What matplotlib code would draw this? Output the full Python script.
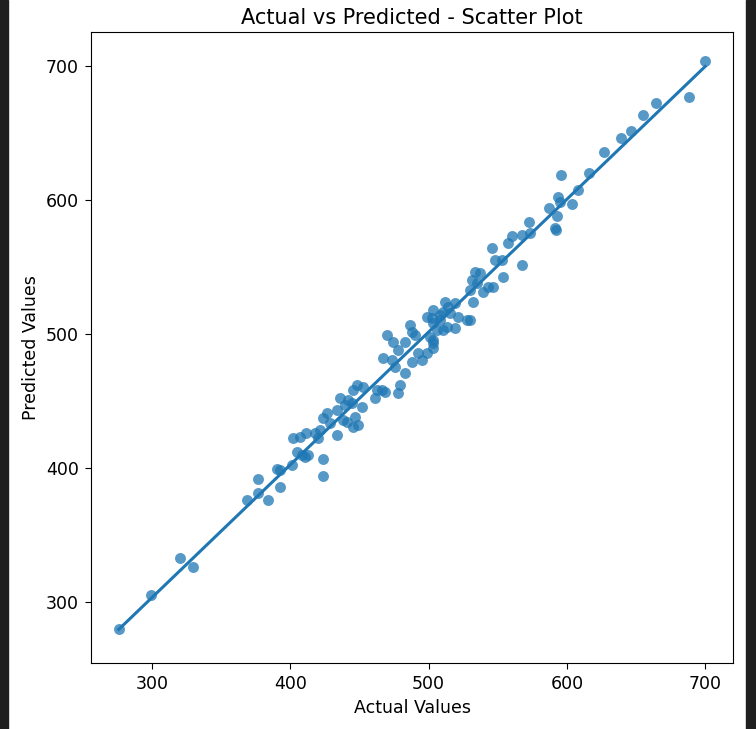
import numpy as np
import matplotlib.pyplot as plt
from matplotlib.patches import Rectangle

# values
actual = [
    276.0, 299.0, 320.0, 330.0,
    368.7, 376.6, 376.6, 383.9, 390.4, 392.6, 392.6, 401.2, 402.0, 407.0,
    411.4, 404.8, 408.5, 410.6, 412.8, 423.6, 423.6, 417.9, 420.0, 421.5,
    423.6, 426.5, 428.7, 433.8, 435.9, 439.6, 441.0, 444.6, 445.3, 433.8,
    469.9, 474.3, 477.9, 482.9, 486.6, 488.0, 490.2, 467.0, 473.5, 475.7,
    482.9, 479.3, 477.9, 468.5, 462.7, 461.2, 466.3, 448.2, 452.6, 445.3,
    441.7, 451.8, 446.8, 438.1, 449.0, 492.3, 495.2, 498.8, 501.0, 503.2,
    502.5, 508.2, 513.3, 519.1, 521.3, 527.8, 510.4, 506.1, 488.0, 498.8,
    545.8, 557.4, 548.0, 553.1, 567.5, 533.5, 537.2, 531.4, 535.0, 553.8,
    543.0, 546.6, 529.9, 532.1, 539.3, 511.9, 514.0, 519.1, 503.2, 508.2,
    515.5, 529.9, 510.4, 503.2, 503.2, 503.2, 560.3,
    699.9, 688.3, 664.4, 655.0, 646.3, 639.1, 626.8, 616.0, 595.7, 608.0,
    593.6, 595.0, 603.7, 587.1, 592.8, 591.4, 592.1, 572.6, 573.3, 567.5,
]
predicted = [
    280.0, 305.0, 333.0, 326.0,
    376.1, 391.8, 381.3, 376.1, 399.3, 398.5, 385.8, 402.2, 422.4, 423.1,
    426.1, 411.9, 409.7, 408.2, 409.7, 406.7, 394.0, 426.1, 422.4, 428.4,
    437.3, 441.0, 433.6, 424.6, 452.2, 447.0, 434.3, 448.5, 430.6, 443.3,
    499.3, 494.0, 488.1, 494.0, 506.7, 501.5, 499.3, 482.1, 480.6, 475.4,
    470.9, 461.9, 456.0, 456.7, 458.2, 452.2, 458.2, 461.9, 460.4, 458.2,
    450.7, 445.5, 438.1, 435.8, 432.1, 485.8, 480.6, 485.8, 497.8, 493.3,
    511.9, 510.4, 505.2, 504.5, 512.7, 510.4, 516.4, 503.0, 479.1, 512.7,
    564.2, 567.9, 555.2, 555.2, 551.5, 546.3, 545.5, 540.3, 538.1, 542.5,
    535.1, 535.1, 532.8, 523.9, 531.3, 523.9, 520.1, 523.1, 517.9, 514.2,
    515.7, 510.4, 503.0, 508.2, 495.5, 489.6, 573.1,
    703.7, 676.9, 672.4, 663.4, 651.5, 646.3, 635.8, 620.1, 618.7, 607.5,
    602.2, 598.5, 597.0, 594.0, 588.1, 579.1, 577.6, 583.6, 575.4, 573.9,
]

actual = np.array(actual)
predicted = np.array(predicted)

# the screenshot is an upscaled figure, so text and ticks are a bit bigger
plt.rcParams['font.size'] = 12.5
plt.rcParams['xtick.major.size'] = 4.4
plt.rcParams['ytick.major.size'] = 4.4
plt.rcParams['xtick.major.pad'] = 4.4
plt.rcParams['ytick.major.pad'] = 4.4

fig = plt.figure(figsize=(7.56, 7.29), dpi=100)
ax = fig.add_axes([0.1204, 0.0905, 0.8492, 0.8655])

ax.scatter(actual, predicted, s=62, color='#1f77b4', alpha=0.75, linewidths=0)

# fitted line
slope, intercept = np.polyfit(actual, predicted, 1)
xs = np.array([actual.min(), actual.max()])
ax.plot(xs, slope * xs + intercept, color='#1f77b4', lw=2.2)

ax.set_xlim(256, 720)
ax.set_ylim(254.5, 725)
ax.set_xticks([300, 400, 500, 600, 700])
ax.set_yticks([300, 400, 500, 600, 700])
ax.set_xlabel('Actual Values', fontsize=12.5)
ax.set_ylabel('Predicted Values', fontsize=12.5)
ax.set_title('Actual vs Predicted - Scatter Plot', fontsize=15, pad=6)

# dark edges of the screenshot
fig.patches.append(Rectangle((0, 0), 8 / 756, 1, transform=fig.transFigure,
                             color='#1f1f1f', zorder=-1))
fig.patches.append(Rectangle((746 / 756, 0), 10 / 756, 1, transform=fig.transFigure,
                             color='#1f1f1f', zorder=-1))

fig.savefig('out.png', dpi=100)
